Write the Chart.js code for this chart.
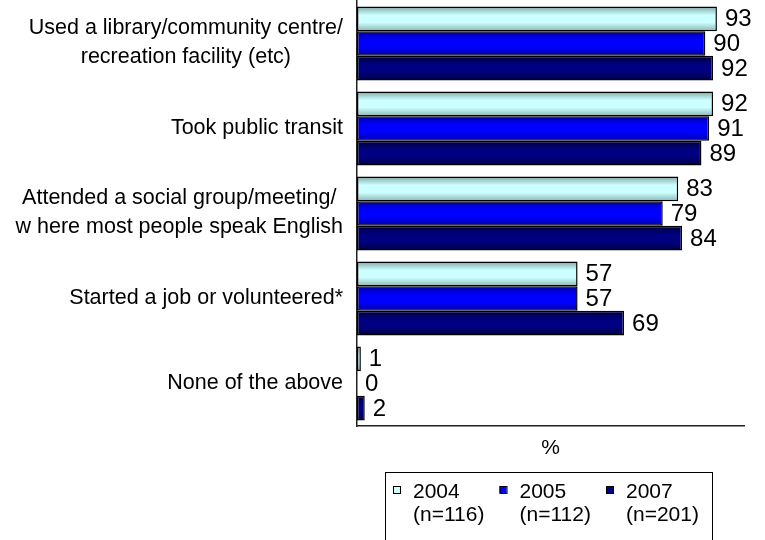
<!DOCTYPE html>
<html>
<head>
<meta charset="utf-8">
<script src="https://cdn.jsdelivr.net/npm/chart.js@4"></script>
<style>
  html, body { margin: 0; padding: 0; background: #fff; }
  #wrap { width: 765px; height: 540px; }
</style>
</head>
<body>
<div id="wrap"><canvas id="c" width="765" height="540"></canvas></div>
<script>
// Activities reported by respondents, by survey year (%)
const categories = [
  ['Used a library/community centre/', 'recreation facility (etc)'],
  ['Took public transit'],
  ['Attended a social group/meeting/', 'w here most people speak English'],
  ['Started a job or volunteered*'],
  ['None of the above']
];
const years = ['2004', '2005', '2007'];
const sampleSizes = ['(n=116)', '(n=112)', '(n=201)'];
const values2004 = [93, 92, 83, 57, 1];
const values2005 = [90, 91, 79, 57, 0];
const values2007 = [92, 89, 84, 69, 2];
const axisTitle = '%';

const FONT = '"Liberation Sans", Arial, sans-serif';
const CAT_PCT = 0.87;

// edge / centre shading for each series
const shades = [
  ['#7fa6a6', '#ccffff', '#ccffff', '#8ab3b3'],
  ['#0000a0', '#0000ff', '#0000ff', '#0000a8'],
  ['#00003c', '#000080', '#000080', '#000044']
];
const solid = ['#ccffff', '#0000ff', '#000080'];

function barFill(ctx) {
  const chart = ctx.chart;
  const ys = chart.scales && chart.scales.y;
  const s = shades[ctx.datasetIndex];
  if (!ys || ctx.dataIndex === undefined || !isFinite(ys.top)) return s[1];
  const cat = (ys.bottom - ys.top) / categories.length;
  const bar = cat * CAT_PCT / years.length;
  const top = ys.getPixelForValue(ctx.dataIndex) - bar * years.length / 2 + ctx.datasetIndex * bar;
  const g = chart.ctx.createLinearGradient(0, top, 0, top + bar);
  g.addColorStop(0, s[0]);
  g.addColorStop(0.35, s[1]);
  g.addColorStop(0.65, s[2]);
  g.addColorStop(1, s[3]);
  return g;
}

// category labels: lines centred on each other, block right-aligned to the axis
const categoryLabels = {
  id: 'categoryLabels',
  afterDraw(chart) {
    const ys = chart.scales.y;
    const c = chart.ctx;
    c.save();
    c.font = '21.5px ' + FONT;
    c.fillStyle = '#000';
    c.textAlign = 'center';
    c.textBaseline = 'middle';
    const right = ys.right - 14;
    const lh = 29;
    categories.forEach((lines, i) => {
      const w = Math.max(...lines.map(l => c.measureText(l).width));
      const cx = right - w / 2;
      const cy = ys.getPixelForValue(i) - (lines.length > 1 ? 1 : 0);
      lines.forEach((l, k) => {
        c.fillText(l, cx, cy + (k - (lines.length - 1) / 2) * lh);
      });
    });
    c.restore();
  }
};

// value labels at the end of each bar
const valueLabels = {
  id: 'valueLabels',
  afterDatasetsDraw(chart) {
    const c = chart.ctx;
    c.save();
    c.font = '24px ' + FONT;
    c.fillStyle = '#000';
    c.textAlign = 'left';
    c.textBaseline = 'middle';
    chart.data.datasets.forEach((ds, di) => {
      chart.getDatasetMeta(di).data.forEach((el, i) => {
        c.fillText(String(ds.data[i]), el.x + 8, el.y + 1);
      });
    });
    c.restore();
  }
};

// axis title and boxed legend below the plot
const bottomArea = {
  id: 'bottomArea',
  afterDraw(chart) {
    const c = chart.ctx;
    const area = chart.chartArea;
    c.save();
    c.fillStyle = '#000';
    c.font = '21px ' + FONT;
    c.textAlign = 'center';
    c.textBaseline = 'middle';
    c.fillText(axisTitle, (area.left + area.right) / 2, area.bottom + 22);

    const bx = 385.5, by = 472.5, bw = 327, bh = 80;
    c.strokeStyle = '#000';
    c.lineWidth = 1;
    c.strokeRect(bx, by, bw, bh);

    c.font = '21px ' + FONT;
    c.textAlign = 'left';
    c.textBaseline = 'middle';
    years.forEach((y, i) => {
      const x = 393 + i * 106.5;
      c.fillStyle = solid[i];
      c.fillRect(x, 486, 7, 7);
      c.strokeStyle = '#000';
      c.strokeRect(x + 0.5, 486.5, 7, 7);
      c.fillStyle = '#000';
      c.fillText(y, x + 20, 492);
      c.fillText(sampleSizes[i], x + 20, 515);
    });
    c.restore();
  }
};

const seriesValues = [values2004, values2005, values2007];

new Chart(document.getElementById('c'), {
  type: 'bar',
  data: {
    labels: categories,
    datasets: years.map((y, i) => ({
      label: y,
      data: seriesValues[i],
      backgroundColor: barFill,
      borderColor: '#000',
      borderWidth: 1.5,
      borderSkipped: false,
      categoryPercentage: CAT_PCT,
      barPercentage: 1
    }))
  },
  options: {
    indexAxis: 'y',
    responsive: false,
    animation: false,
    events: [],
    layout: { padding: { top: 1, right: 21, bottom: 114, left: 0 } },
    plugins: {
      legend: { display: false },
      tooltip: { enabled: false }
    },
    scales: {
      x: {
        min: 0,
        max: 100,
        grid: { display: false, drawTicks: false },
        ticks: { display: false },
        border: { display: true, color: '#222', width: 1.5 },
        afterFit(scale) { scale.height = 0; }
      },
      y: {
        grid: { display: false, drawTicks: false },
        ticks: { display: false },
        border: { display: true, color: '#222', width: 1.5 },
        afterFit(scale) { scale.width = 357; }
      }
    }
  },
  plugins: [categoryLabels, valueLabels, bottomArea]
});
</script>
</body>
</html>
